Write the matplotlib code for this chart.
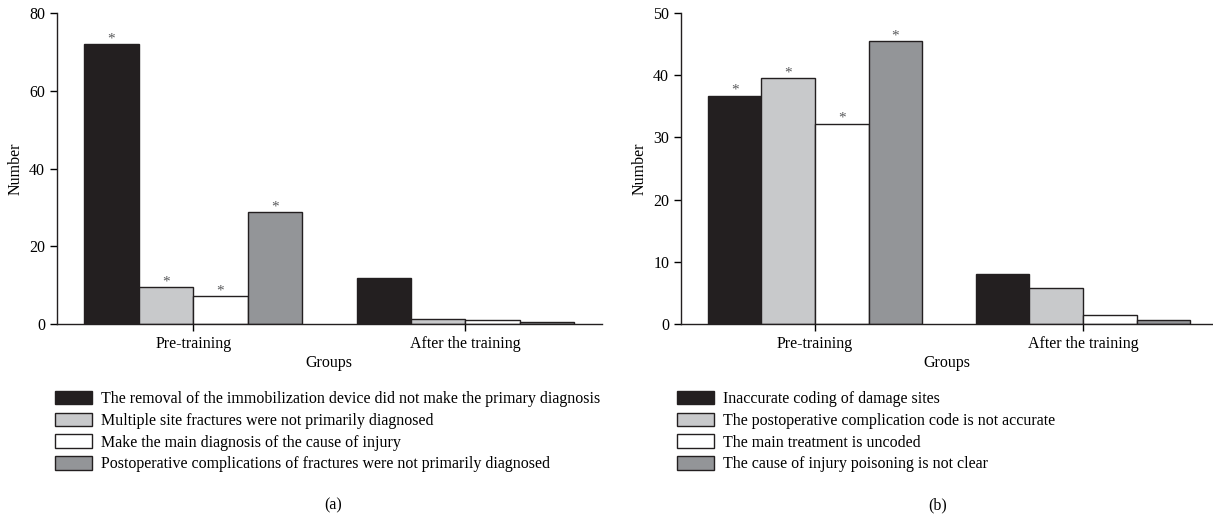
import numpy as np
import matplotlib
matplotlib.use("Agg")
import matplotlib.pyplot as plt

plt.rcParams['font.family'] = ['Liberation Serif', 'DejaVu Serif']

groups = ["Pre-training", "After the training"]

labels_a = [
    "The removal of the immobilization device did not make the primary diagnosis",
    "Multiple site fractures were not primarily diagnosed",
    "Make the main diagnosis of the cause of injury",
    "Postoperative complications of fractures were not primarily diagnosed",
]
values_a = [
    [72.0, 11.8],
    [9.5, 1.2],
    [7.2, 0.9],
    [28.8, 0.6],
]
stars_a = [[True, False], [True, False], [True, False], [True, False]]

labels_b = [
    "Inaccurate coding of damage sites",
    "The postoperative complication code is not accurate",
    "The main treatment is uncoded",
    "The cause of injury poisoning is not clear",
]
values_b = [
    [36.7, 8.1],
    [39.5, 5.8],
    [32.2, 1.5],
    [45.5, 0.65],
]
stars_b = [[True, False], [True, False], [True, False], [True, False]]

colors = ["#231f20", "#c8c9cb", "#ffffff", "#939598"]
edge = "#231f20"
fs = 11.5


def draw_panel(ax, labels, values, stars, ymax, yticks, xmax):
    x = np.arange(len(groups))
    width = 0.2
    handles = []
    for i, (lab, vals) in enumerate(zip(labels, values)):
        pos = x + (i - 1.5) * width
        b = ax.bar(pos, vals, width, color=colors[i], edgecolor=edge,
                   linewidth=1.0, label=lab, zorder=2)
        handles.append(b)
        for p, v, s in zip(pos, vals, stars[i]):
            if s:
                ax.text(p, v - ymax * 0.004, "*", ha="center", va="bottom",
                        fontsize=11, color="#58595b")
    ax.set_xlim(-0.5, xmax)
    ax.set_ylim(0, ymax)
    ax.set_yticks(yticks)
    ax.set_xticks(x)
    ax.set_xticklabels(groups, fontsize=fs)
    ax.tick_params(axis="y", labelsize=fs, length=5, width=1, direction="out")
    ax.tick_params(axis="x", length=5, width=1, direction="out", pad=4)
    for s in ["top", "right"]:
        ax.spines[s].set_visible(False)
    for s in ["left", "bottom"]:
        ax.spines[s].set_linewidth(1.0)
        ax.spines[s].set_color(edge)
    ax.set_ylabel("Number", fontsize=fs)
    ax.set_xlabel("Groups", fontsize=fs, labelpad=1.5)
    return handles


fig = plt.figure(figsize=(12.13, 5.25), dpi=100)
ax_a = fig.add_axes([0.047, 0.383, 0.449, 0.592])
ax_b = fig.add_axes([0.5614, 0.383, 0.4386, 0.592])

h_a = draw_panel(ax_a, labels_a, values_a, stars_a, 80, [0, 20, 40, 60, 80], 1.5)
h_b = draw_panel(ax_b, labels_b, values_b, stars_b, 50, [0, 10, 20, 30, 40, 50], 1.485)

for h, labs, x0 in [(h_a, labels_a, 0.040), (h_b, labels_b, 0.553)]:
    fig.legend(handles=h, labels=labs, loc="upper left",
               bbox_to_anchor=(x0, 0.268), frameon=False, fontsize=fs,
               handlelength=2.3, handleheight=0.9, handletextpad=0.6,
               labelspacing=0.36, borderaxespad=0)

fig.text(0.275, 0.038, "(a)", ha="center", va="center", fontsize=fs)
fig.text(0.773, 0.038, "(b)", ha="center", va="center", fontsize=fs)

fig.savefig("out.png", dpi=100)
